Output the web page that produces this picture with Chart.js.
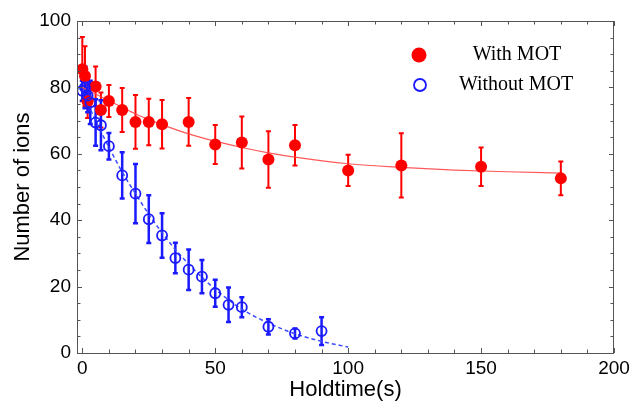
<!DOCTYPE html>
<html>
<head>
<meta charset="utf-8">
<script src="https://cdn.jsdelivr.net/npm/chart.js@4.4.1/dist/chart.umd.min.js"></script>
<style>
  html, body { margin: 0; padding: 0; background: #fff; }
</style>
</head>
<body>
<canvas id="ionChart" width="634" height="409"></canvas>
<script>
// hold time (s), ion counts and +/- errors
const withMotTime = [0, 1, 2, 5, 7, 10, 15, 20, 25, 30, 40, 50, 60, 70, 80, 100, 120, 150, 180];
const withMotIons = [85.5, 83.4, 75.8, 80.3, 73.2, 75.9, 73.2, 69.6, 69.6, 68.9, 69.6, 62.8, 63.4, 58.3, 62.6, 55, 56.5, 56.1, 52.6];
const withMotErr  = [9.7, 9, 5, 6, 5.3, 4.8, 6.6, 8.1, 7, 7.3, 7.2, 5.9, 7.8, 8.5, 6.1, 4.7, 9.7, 5.8, 5.1];

const noMotTime = [0, 1, 2, 3, 5, 7, 10, 15, 20, 25, 30, 35, 40, 45, 50, 55, 60, 70, 80, 90];
const noMotIons = [79, 80, 77.5, 75.5, 69.4, 68.6, 62.3, 53.5, 48, 40.3, 35.4, 28.6, 25.1, 23, 18, 14.5, 13.8, 7.9, 5.9, 6.6];
const noMotErr  = [3, 6.3, 5, 6.5, 7, 7.5, 4, 7, 8.9, 7.2, 6.7, 4.6, 6.1, 5, 4.1, 5.2, 3, 2.3, 1.5, 4.2];

// fitted curves, sampled
const withMotFitTime = [0, 5, 10, 15, 20, 30, 40, 50, 60, 70, 80, 100, 120, 140, 160, 180];
const withMotFitIons = [80, 78, 76, 74, 72, 68.8, 66, 63.8, 61.9, 60.3, 59, 57, 55.9, 55.1, 54.6, 54.2];
const noMotFitTime = [0, 5, 10, 15, 20, 25, 30, 35, 40, 45, 50, 55, 60, 70, 80, 90, 100];
const noMotFitIons = [79, 70, 62, 54.5, 48, 41.8, 36.2, 31.2, 26.8, 22.8, 19.2, 16, 13.2, 9, 5.8, 3.5, 1.8];

const xTicks = [0, 50, 100, 150, 200];
const yTicks = [0, 20, 40, 60, 80, 100];

const RED = '#ff0000';
const BLUE = '#1a1aff';

const toPoints = (xs, ys) => xs.map((x, i) => ({ x: x, y: ys[i] }));

const errorSeries = [
  { xs: withMotTime, ys: withMotIons, err: withMotErr, color: RED, width: 2 },
  { xs: noMotTime, ys: noMotIons, err: noMotErr, color: BLUE, width: 2.5 }
];

// vertical error bars with small caps
const errorBars = {
  id: 'errorBars',
  beforeDatasetsDraw(chart) {
    const { ctx, scales: { x, y } } = chart;
    ctx.save();
    errorSeries.forEach(s => {
      ctx.strokeStyle = s.color;
      ctx.lineWidth = s.width;
      s.xs.forEach((t, i) => {
        const px = x.getPixelForValue(t);
        const top = y.getPixelForValue(s.ys[i] + s.err[i]);
        const bot = y.getPixelForValue(s.ys[i] - s.err[i]);
        ctx.beginPath();
        ctx.moveTo(px, top); ctx.lineTo(px, bot);
        ctx.moveTo(px - 2.5, top); ctx.lineTo(px + 2.5, top);
        ctx.moveTo(px - 2.5, bot); ctx.lineTo(px + 2.5, bot);
        ctx.stroke();
      });
    });
    ctx.restore();
  }
};

// box frame with inward ticks, and the legend inside the plot
const frame = {
  id: 'frame',
  afterDraw(chart) {
    const { ctx, chartArea: a, scales: { x, y } } = chart;
    ctx.save();
    ctx.strokeStyle = '#555';
    ctx.lineWidth = 1;
    ctx.strokeRect(a.left + 0.5, a.top + 0.5, a.right - a.left - 1, a.bottom - a.top);
    ctx.beginPath();
    for (let v = 0; v <= 200; v += 10) {
      const px = Math.round(x.getPixelForValue(v)) + 0.5;
      const len = v % 50 === 0 ? 5 : 3.5;
      ctx.moveTo(px, a.bottom); ctx.lineTo(px, a.bottom - len);
      ctx.moveTo(px, a.top); ctx.lineTo(px, a.top + len);
    }
    for (let v = 0; v <= 100; v += 5) {
      const py = Math.round(y.getPixelForValue(v)) + 0.5;
      const len = v % 20 === 0 ? 5 : 3.5;
      ctx.moveTo(a.left, py); ctx.lineTo(a.left + len, py);
      ctx.moveTo(a.right, py); ctx.lineTo(a.right - len, py);
    }
    ctx.stroke();

    // legend
    ctx.fillStyle = RED;
    ctx.beginPath();
    ctx.arc(419, 55, 7.5, 0, Math.PI * 2);
    ctx.fill();
    ctx.strokeStyle = BLUE;
    ctx.lineWidth = 1.8;
    ctx.beginPath();
    ctx.arc(420, 85, 6, 0, Math.PI * 2);
    ctx.stroke();
    ctx.fillStyle = '#000';
    ctx.font = '20px "Liberation Serif"';
    ctx.textAlign = 'center';
    ctx.textBaseline = 'middle';
    ctx.fillText('With MOT', 517, 55);
    ctx.fillText('Without MOT', 516, 85);
    ctx.restore();
  }
};

new Chart(document.getElementById('ionChart'), {
  type: 'scatter',
  data: {
    datasets: [
      {
        label: 'Without MOT',
        data: toPoints(noMotTime, noMotIons),
        pointRadius: 5,
        pointBorderWidth: 1.8,
        pointBackgroundColor: 'rgba(0,0,0,0)',
        pointBorderColor: BLUE
      },
      {
        label: 'With MOT',
        data: toPoints(withMotTime, withMotIons),
        pointRadius: 6,
        pointBorderWidth: 0,
        pointBackgroundColor: RED,
        pointBorderColor: RED
      },
      {
        label: 'Without MOT fit',
        data: toPoints(noMotFitTime, noMotFitIons),
        showLine: true,
        pointRadius: 0,
        borderColor: '#3a4cff',
        borderWidth: 1.5,
        borderDash: [4, 3],
        cubicInterpolationMode: 'monotone'
      },
      {
        label: 'With MOT fit',
        data: toPoints(withMotFitTime, withMotFitIons),
        showLine: true,
        pointRadius: 0,
        borderColor: 'rgba(255,70,70,0.9)',
        borderWidth: 1.2,
        cubicInterpolationMode: 'monotone'
      }
    ]
  },
  options: {
    responsive: false,
    animation: false,
    layout: { padding: { top: 21, right: 20, left: 0, bottom: 0 } },
    plugins: {
      legend: { display: false },
      tooltip: { enabled: false }
    },
    scales: {
      x: {
        type: 'linear',
        min: -2,
        max: 200,
        afterBuildTicks: s => { s.ticks = xTicks.map(v => ({ value: v })); },
        afterFit: s => { s.height = 56; },
        grid: { display: false, drawTicks: false },
        border: { display: false },
        ticks: {
          color: '#000',
          padding: 4,
          autoSkip: false,
          maxRotation: 0,
          font: { family: '"Liberation Sans", Arial', size: 19 }
        },
        title: {
          display: true,
          text: 'Holdtime(s)',
          color: '#000',
          padding: { top: 0, bottom: 6 },
          font: { family: '"Liberation Sans", Arial', size: 22 }
        }
      },
      y: {
        min: 0,
        max: 100,
        afterBuildTicks: s => { s.ticks = yTicks.map(v => ({ value: v })); },
        afterFit: s => { s.width = 77; },
        grid: { display: false, drawTicks: false },
        border: { display: false },
        ticks: {
          color: '#000',
          padding: 6,
          font: { family: '"Liberation Sans", Arial', size: 19 }
        },
        title: {
          display: true,
          text: 'Number of ions',
          color: '#000',
          padding: { top: 10, bottom: 0 },
          font: { family: '"Liberation Sans", Arial', size: 22 }
        }
      }
    }
  },
  plugins: [errorBars, frame]
});
</script>
</body>
</html>
